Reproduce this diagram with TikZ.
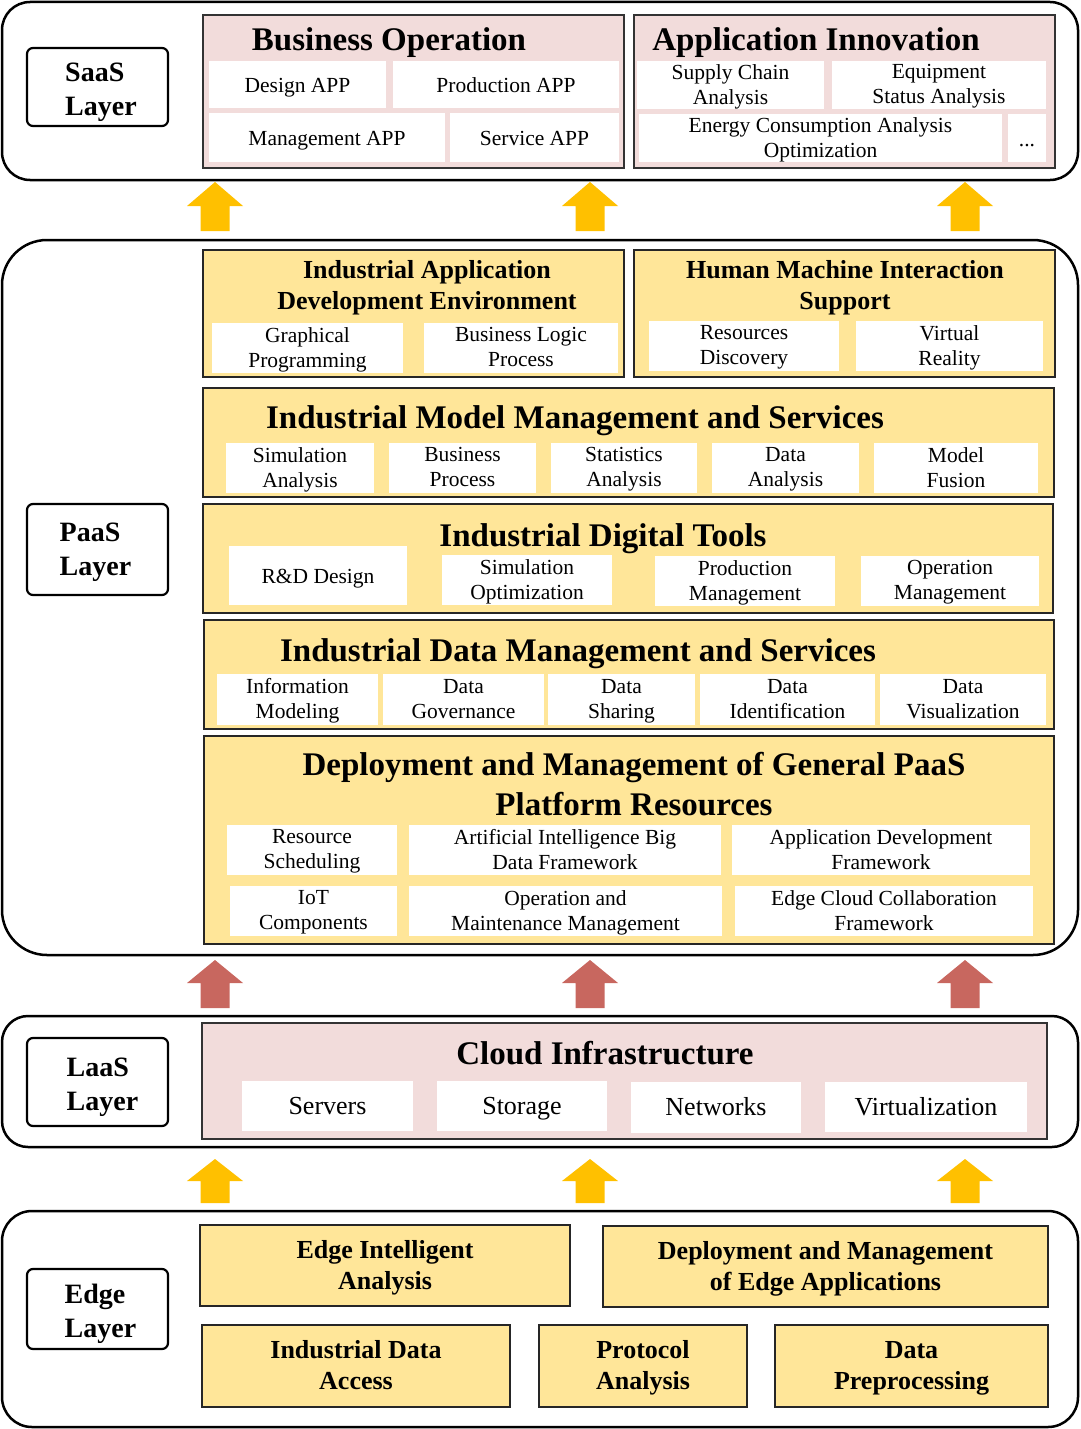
\documentclass[tikz,border=0pt]{standalone}
\usepackage{fontspec}
\setmainfont{Liberation Serif}
\definecolor{pinkfill}{HTML}{F2DCDB}
\definecolor{yelfill}{HTML}{FFE699}
\definecolor{arrowyel}{HTML}{FFC000}
\definecolor{arrowred}{HTML}{C8675F}
\tikzset{
  strutted/.style={execute at begin node=\strut, execute at end node=\strut},
  layer/.style={draw=black, line width=2.5pt},
  tag/.style={draw=black, line width=2.2pt, rounded corners=6pt, minimum width=141pt, inner sep=0pt},
  tagtxt/.style={strutted, align=left, inner sep=0pt, font=\fontsize{28}{34}\selectfont\bfseries},
  pinkbox/.style={draw=black!80, line width=2pt, fill=pinkfill, inner sep=0pt},
  yelbox/.style={draw=black!85, line width=2pt, fill=yelfill, inner sep=0pt, align=center},
  % a short text depth sits the text a little lower in its box
  cell/.style={strutted, text depth=1.5pt, fill=white, inner sep=0pt, align=center, font=\fontsize{21.5}{25}\selectfont},
  bigcell/.style={cell, text depth=5pt, font=\fontsize{26}{30}\selectfont},
  ttl/.style={strutted, inner sep=0pt, align=center, font=\fontsize{33}{40}\selectfont\bfseries},
  subttl/.style={strutted, text depth=1.3pt, inner sep=0pt, align=center, font=\fontsize{26}{31}\selectfont\bfseries},
}
\begin{document}
\begin{tikzpicture}[x=1pt,y=1pt,yscale=-1]
\useasboundingbox (0,0) rectangle (1080,1429);

% Layers
\draw[layer, rounded corners=28pt] (2,2) rectangle (1078,180);
\draw[layer, rounded corners=45pt] (2,240) rectangle (1078,955);
\draw[layer, rounded corners=26pt] (2,1016) rectangle (1078,1147);
\draw[layer, rounded corners=30pt] (2,1211) rectangle (1078,1427);

% Layer tags
\node[tag, minimum height=78pt] (saas) at (97.5,87) {};
\node[tagtxt] (saasT) at (101,94.7) {SaaS\\Layer};
\node[tag, minimum height=91pt] (paas) at (97.5,549.5) {};
\node[tagtxt] (paasT) at (95.5,554.7) {PaaS\\Layer};
\node[tag, minimum height=88pt] (laas) at (97.5,1082) {};
\node[tagtxt] (laasT) at (102.5,1089.5) {LaaS\\Layer};
\node[tag, minimum height=80pt] (edge) at (97.5,1309) {};
\node[tagtxt] (edgeT) at (100.5,1315.7) {Edge\\Layer};

% SaaS: Business Operation
\node[pinkbox, minimum width=421pt, minimum height=153pt] (bizop) at (413.5,91.5) {};
\node[ttl] (bizopT) at (389,43) {Business Operation};
\node[cell, minimum width=177pt, minimum height=47pt] (designapp) at (297.5,84.5) {Design APP};
\node[cell, minimum width=226pt, minimum height=47pt] (prodapp) at (506,84.5) {Production APP};
\node[cell, minimum width=236pt, minimum height=49pt] (mgmtapp) at (327,137.5) {Management APP};
\node[cell, minimum width=169pt, minimum height=49pt] (servapp) at (534.5,137.5) {Service APP};

% SaaS: Application Innovation
\node[pinkbox, minimum width=421pt, minimum height=153pt] (appinno) at (844.5,91.5) {};
\node[ttl] (appinnoT) at (816,43) {Application Innovation};
\node[cell, minimum width=187pt, minimum height=48pt] (supply) at (730.5,85) {Supply Chain\\Analysis};
\node[cell, minimum width=214pt, minimum height=48pt] (equip) at (939,85) {Equipment\\Status Analysis};
\node[cell, minimum width=363pt, minimum height=48pt] (energy) at (820.5,138) {Energy Consumption Analysis\\Optimization};
\node[cell, minimum width=38pt, minimum height=48pt] (more) at (1027,138) {...};

% PaaS: top row
\node[yelbox, minimum width=421pt, minimum height=127pt] (iade) at (413.5,313.5) {};
\node[subttl] (iadeT) at (427,286) {Industrial Application\\Development Environment};
\node[cell, minimum width=191pt, minimum height=50pt] (graph) at (307.5,348) {Graphical\\Programming};
\node[cell, minimum width=194pt, minimum height=50pt] (bizlogic) at (521,348) {Business Logic\\Process};
\node[yelbox, minimum width=421pt, minimum height=127pt] (hmi) at (844.5,313.5) {};
\node[subttl] (hmiT) at (845,286) {Human Machine Interaction\\Support};
\node[cell, minimum width=190pt, minimum height=50pt] (resdisc) at (744,346) {Resources\\Discovery};
\node[cell, minimum width=187pt, minimum height=50pt] (vr) at (949.5,346) {Virtual\\Reality};

% PaaS: Industrial Model Management and Services
\node[yelbox, minimum width=851pt, minimum height=109pt] (imms) at (628.5,442.5) {};
\node[ttl] (immsT) at (575,420) {Industrial Model Management and Services};
\node[cell, minimum width=148pt, minimum height=50pt] (simana) at (300,468) {Simulation\\Analysis};
\node[cell, minimum width=147pt, minimum height=50pt] (bizproc) at (462.5,468) {Business\\Process};
\node[cell, minimum width=146pt, minimum height=50pt] (statana) at (624,468) {Statistics\\Analysis};
\node[cell, minimum width=147pt, minimum height=50pt] (dataana) at (785.5,468) {Data\\Analysis};
\node[cell, minimum width=164pt, minimum height=50pt] (modfus) at (956,468) {Model\\Fusion};

% PaaS: Industrial Digital Tools
\node[yelbox, minimum width=850pt, minimum height=109pt] (idt) at (628,558.5) {};
\node[ttl] (idtT) at (603,538) {Industrial Digital Tools};
\node[cell, minimum width=178pt, minimum height=59pt] (rnd) at (318,575.5) {R\&D Design};
\node[cell, minimum width=170pt, minimum height=50pt] (simopt) at (527,580) {Simulation\\Optimization};
\node[cell, minimum width=180pt, minimum height=50pt] (prodmgmt) at (745,581) {Production\\Management};
\node[cell, minimum width=178pt, minimum height=50pt] (opmgmt) at (950,581) {Operation\\Management};

% PaaS: Industrial Data Management and Services
\node[yelbox, minimum width=850pt, minimum height=109pt] (idms) at (629,674.5) {};
\node[ttl] (idmsT) at (578,653) {Industrial Data Management and Services};
\node[cell, minimum width=161pt, minimum height=51pt] (infomod) at (297.5,699.5) {Information\\Modeling};
\node[cell, minimum width=161pt, minimum height=51pt] (datagov) at (463.5,699.5) {Data\\Governance};
\node[cell, minimum width=147pt, minimum height=51pt] (datashare) at (621.5,699.5) {Data\\Sharing};
\node[cell, minimum width=175pt, minimum height=51pt] (dataid) at (787.5,699.5) {Data\\Identification};
\node[cell, minimum width=166pt, minimum height=51pt] (datavis) at (963,699.5) {Data\\Visualization};

% PaaS: General PaaS Platform Resources
\node[yelbox, minimum width=850pt, minimum height=208pt] (dmgp) at (629,840) {};
\node[ttl] (dmgpT) at (634,790) {Deployment and Management of General PaaS\\Platform Resources};
\node[cell, minimum width=170pt, minimum height=50pt] (ressched) at (312,850) {Resource\\Scheduling};
\node[cell, minimum width=312pt, minimum height=50pt] (aibig) at (565,850) {Artificial Intelligence Big\\Data Framework};
\node[cell, minimum width=298pt, minimum height=50pt] (appdev) at (881,850) {Application Development\\Framework};
\node[cell, minimum width=167pt, minimum height=50pt] (iot) at (313.5,911) {IoT\\Components};
\node[cell, minimum width=313pt, minimum height=50pt] (opmaint) at (565.5,911) {Operation and\\Maintenance Management};
\node[cell, minimum width=298pt, minimum height=50pt] (edgecloud) at (884,911) {Edge Cloud Collaboration\\Framework};

% LaaS: Cloud Infrastructure
\node[pinkbox, minimum width=845pt, minimum height=116pt] (cloud) at (624.5,1081) {};
\node[ttl] (cloudT) at (605,1056) {Cloud Infrastructure};
\node[bigcell, minimum width=171pt, minimum height=50pt] (servers) at (327.5,1106) {Servers};
\node[bigcell, minimum width=170pt, minimum height=50pt] (storage) at (522,1106) {Storage};
\node[bigcell, minimum width=170pt, minimum height=51pt] (networks) at (716,1107.5) {Networks};
\node[bigcell, minimum width=202pt, minimum height=50pt] (virt) at (926,1107) {Virtualization};

% Edge layer
\node[yelbox, subttl, minimum width=370pt, minimum height=81pt] (edgeint) at (385,1265.5) {Edge Intelligent\\Analysis};
\node[yelbox, subttl, minimum width=445pt, minimum height=81pt] (edgeapp) at (825.5,1266.5) {Deployment and Management\\of Edge Applications};
\node[yelbox, subttl, minimum width=308pt, minimum height=82pt] (indaccess) at (356,1366) {Industrial Data\\Access};
\node[yelbox, subttl, minimum width=208pt, minimum height=82pt] (protocol) at (643,1366) {Protocol\\Analysis};
\node[yelbox, subttl, minimum width=273pt, minimum height=82pt] (preproc) at (911.5,1366) {Data\\Preprocessing};

% Block arrows between layers
\foreach \x in {215,590,965}{
  \fill[arrowyel] (\x-14.5,231) -- (\x-14.5,206) -- (\x-28,206) -- (\x,182) -- (\x+28,206) -- (\x+14.5,206) -- (\x+14.5,231) -- cycle;
  \fill[arrowred] (\x-14.5,1008) -- (\x-14.5,983) -- (\x-28,983) -- (\x,960) -- (\x+28,983) -- (\x+14.5,983) -- (\x+14.5,1008) -- cycle;
  \fill[arrowyel] (\x-14.5,1203) -- (\x-14.5,1181) -- (\x-28,1181) -- (\x,1159) -- (\x+28,1181) -- (\x+14.5,1181) -- (\x+14.5,1203) -- cycle;
}

\end{tikzpicture}
\end{document}
